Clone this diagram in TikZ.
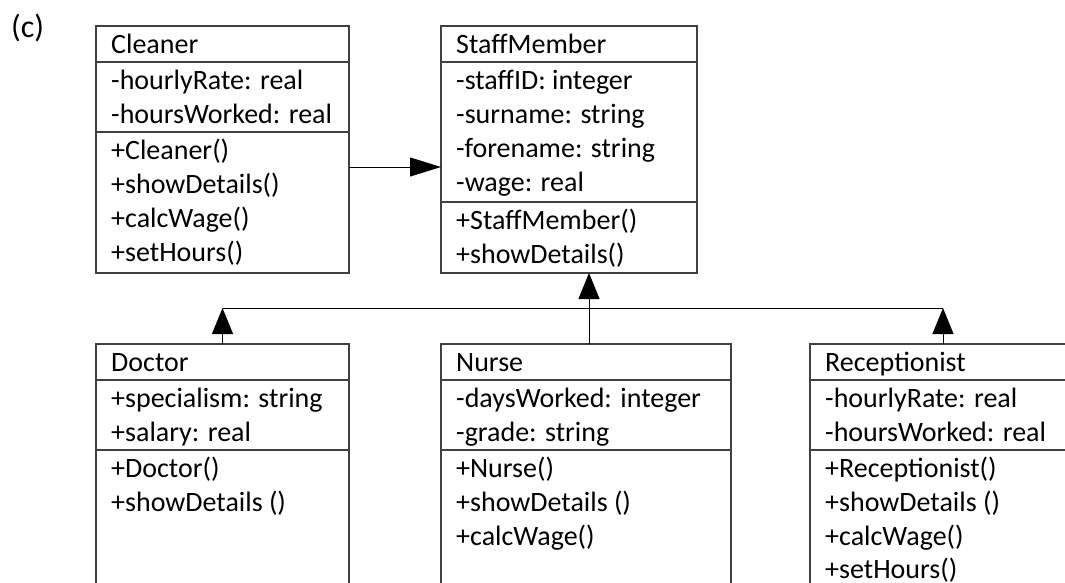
\documentclass[tikz,border=0pt]{standalone}
\usepackage{fontspec}
\setmainfont{Carlito}
\usetikzlibrary{arrows.meta,calc}
\tikzset{
  cls/.style={draw=black!75, line width=1.1pt, rectangle, anchor=north west, inner sep=0pt, outer sep=0pt},
  txt/.style={anchor=base west, inner sep=0pt, font=\fontsize{28pt}{34pt}\selectfont},
  sep/.style={draw=black!75, line width=1.1pt},
  conn/.style={draw=black, line width=1pt},
  harrow/.style={conn, -{Triangle[length=31pt,width=19pt]}},
  varrow/.style={conn, -{Triangle[length=26pt,width=21pt]}}
}
\newcommand\umlrow[4]{\node[txt] (#1) at ($(#2.north west)+(15pt,-#3)$) {#4};}
\newcommand\umlsep[2]{\draw[sep] ($(#1.north west)+(0,-#2)$) -- ($(#1.north east)+(0,-#2)$);}
\begin{document}
\begin{tikzpicture}[x=1pt,y=1pt]
\useasboundingbox (0,0) rectangle (1065,-582);
\clip (0,0) rectangle (1065,-582);
\fill[white] (0,0) rectangle (1065,-582);

\node[txt, font=\fontsize{32pt}{38pt}\selectfont] (label) at (11,-37) {(c)};

% Cleaner
\node[cls, minimum width=253pt, minimum height=247pt] (cleaner) at (96,-26) {};
\umlsep{cleaner}{36pt}
\umlsep{cleaner}{106pt}
\umlrow{c0}{cleaner}{27pt}{Cleaner}
\umlrow{c1}{cleaner}{63pt}{-hourlyRate: real}
\umlrow{c2}{cleaner}{97pt}{-hoursWorked: real}
\umlrow{c3}{cleaner}{133pt}{+Cleaner()}
\umlrow{c4}{cleaner}{167pt}{+showDetails()}
\umlrow{c5}{cleaner}{201pt}{+calcWage()}
\umlrow{c6}{cleaner}{235pt}{+setHours()}

% StaffMember
\node[cls, minimum width=256pt, minimum height=247pt] (staff) at (441,-26) {};
\umlsep{staff}{36pt}
\umlsep{staff}{176pt}
\umlrow{s0}{staff}{27pt}{StaffMember}
\umlrow{s1}{staff}{63pt}{-staffID: integer}
\umlrow{s2}{staff}{97pt}{-surname: string}
\umlrow{s3}{staff}{131pt}{-forename: string}
\umlrow{s4}{staff}{165pt}{-wage: real}
\umlrow{s5}{staff}{203pt}{+StaffMember()}
\umlrow{s6}{staff}{237pt}{+showDetails()}

% Doctor
\node[cls, minimum width=253pt, minimum height=300pt] (doctor) at (96,-344) {};
\umlsep{doctor}{36pt}
\umlsep{doctor}{106pt}
\umlrow{d0}{doctor}{27pt}{Doctor}
\umlrow{d1}{doctor}{63pt}{+specialism: string}
\umlrow{d2}{doctor}{97pt}{+salary: real}
\umlrow{d3}{doctor}{133pt}{+Doctor()}
\umlrow{d4}{doctor}{167pt}{+showDetails ()}

% Nurse
\node[cls, minimum width=290pt, minimum height=300pt] (nurse) at (441,-344) {};
\umlsep{nurse}{36pt}
\umlsep{nurse}{106pt}
\umlrow{n0}{nurse}{27pt}{Nurse}
\umlrow{n1}{nurse}{63pt}{-daysWorked: integer}
\umlrow{n2}{nurse}{97pt}{-grade: string}
\umlrow{n3}{nurse}{133pt}{+Nurse()}
\umlrow{n4}{nurse}{167pt}{+showDetails ()}
\umlrow{n5}{nurse}{201pt}{+calcWage()}

% Receptionist
\node[cls, minimum width=266pt, minimum height=300pt] (recep) at (810,-344) {};
\umlsep{recep}{36pt}
\umlsep{recep}{106pt}
\umlrow{r0}{recep}{27pt}{Receptionist}
\umlrow{r1}{recep}{63pt}{-hourlyRate: real}
\umlrow{r2}{recep}{97pt}{-hoursWorked: real}
\umlrow{r3}{recep}{133pt}{+Receptionist()}
\umlrow{r4}{recep}{167pt}{+showDetails ()}
\umlrow{r5}{recep}{201pt}{+calcWage()}
\umlrow{r6}{recep}{234pt}{+setHours()}

% connectors
\coordinate (ya) at (0,-167);
\coordinate (bus) at (0,-308);
\coordinate (nx) at (589,0);
\draw[harrow] (cleaner.east |- ya) -- (staff.west |- ya);
\draw[conn] (doctor.north |- bus) -- (recep.north |- bus);
\draw[varrow] (doctor.north) -- (doctor.north |- bus);
\draw[varrow] (recep.north) -- (recep.north |- bus);
\draw[varrow] (nx |- nurse.north) -- (nx |- staff.south);
\end{tikzpicture}
\end{document}
